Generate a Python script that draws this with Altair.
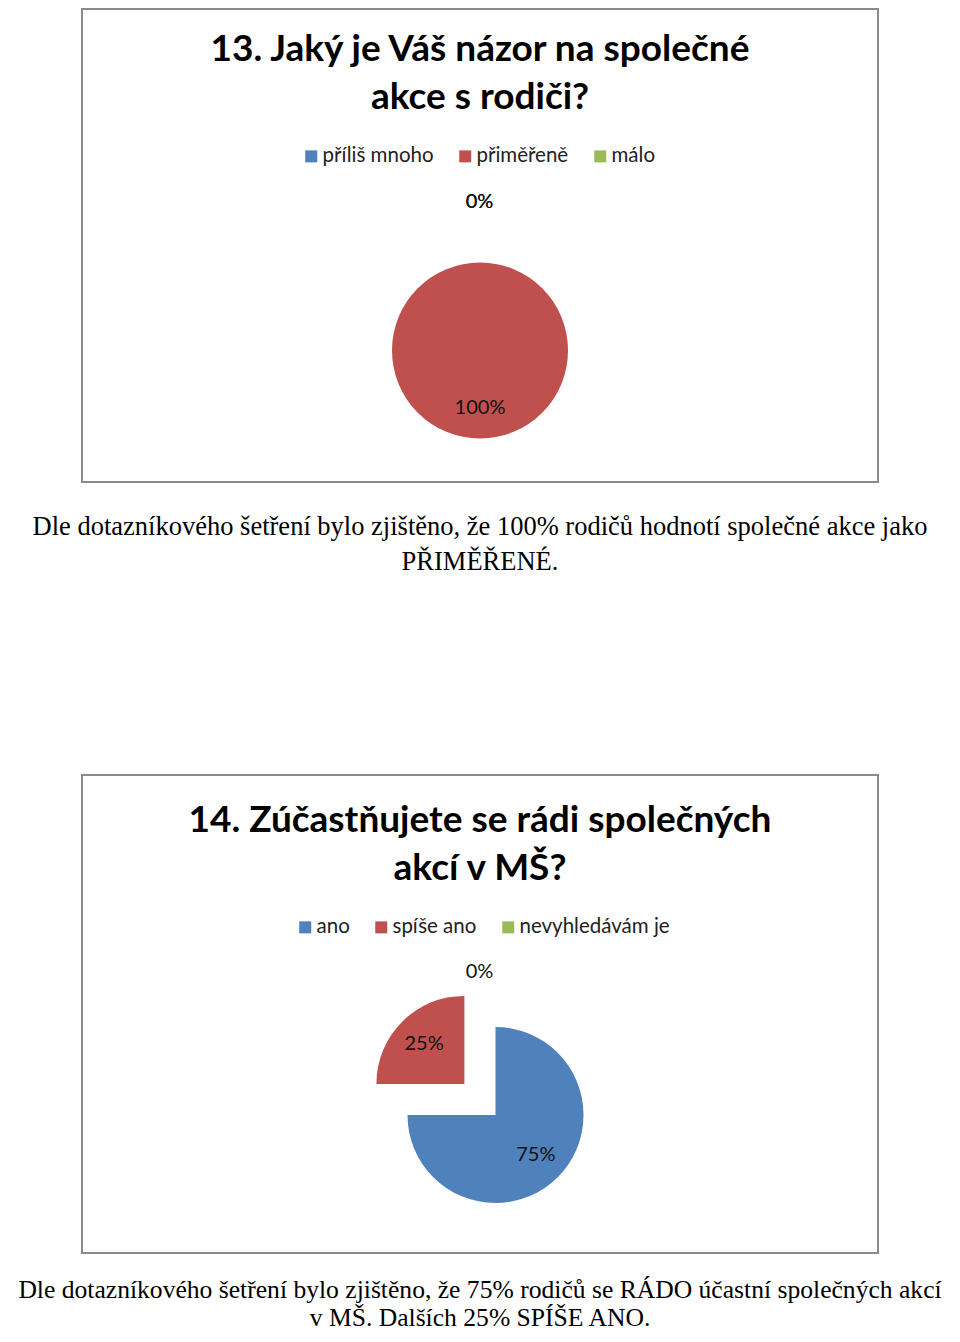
import altair as alt
import pandas as pd

# ---------------- data ----------------
q13_categories = ["příliš mnoho", "přiměřeně", "málo"]
q13_values = [0, 100, 0]
q13_title = ["13. Jaký je Váš názor na společné", "akce s rodiči?"]
q13_text = ["Dle dotazníkového šetření bylo zjištěno, že 100% rodičů hodnotí společné akce jako",
            "PŘIMĚŘENÉ."]

q14_categories = ["ano", "spíše ano", "nevyhledávám je"]
q14_values = [75, 25, 0]
q14_exploded = ["spíše ano"]
q14_title = ["14. Zúčastňujete se rádi společných", "akcí v MŠ?"]
q14_text = ["Dle dotazníkového šetření bylo zjištěno, že 75% rodičů se RÁDO účastní společných akcí",
            "v MŠ. Dalších 25% SPÍŠE ANO."]

# ---------------- style ----------------
PALETTE = ["#4F81BD", "#C0504D", "#9BBB59"]
TITLE_FONT = "Lato"
BODY_FONT = "Liberation Serif"
W, H = 944, 1326
M = 8  # page margin


def P(v):
    """page pixel -> chart pixel"""
    return v - M


ONE = alt.Data(values=[{"k": 0}])


def panel(categories, values, title, box_top, pie_cx, pie_cy, zero_r, legend_x,
          exploded=(), explode_dist=0):
    df = pd.DataFrame({
        "cat": categories,
        "value": values,
        "order": list(range(len(categories))),
        "explode": [c in exploded for c in categories],
    })
    base = (
        alt.Chart(df)
        .transform_joinaggregate(total="sum(value)")
        .transform_window(cum="sum(value)", sort=[alt.SortField("order")], frame=[None, 0])
        .transform_calculate(
            t0="2*PI*(datum.cum-datum.value)/datum.total",
            t1="2*PI*datum.cum/datum.total",
            tm="PI*(2*datum.cum-datum.value)/datum.total",
            pct="format(datum.value/datum.total, '.0%')",
            ox=f"{P(pie_cx)} + (datum.explode ? {explode_dist} : 0)*sin(datum.tm)",
            oy=f"{P(pie_cy)} - (datum.explode ? {explode_dist} : 0)*cos(datum.tm)",
        )
    )
    arcs = base.mark_arc(outerRadius=88).encode(
        theta=alt.Theta("t0:Q", scale=None, stack=False),
        theta2="t1:Q",
        x=alt.X("ox:Q", scale=None, axis=None),
        y=alt.Y("oy:Q", scale=None, axis=None),
        color=alt.Color(
            "cat:N",
            sort=categories,
            scale=alt.Scale(domain=categories, range=PALETTE),
            legend=alt.Legend(
                title=None, orient="none", legendX=P(legend_x), legendY=P(box_top + 142),
                direction="horizontal", symbolType="square", symbolSize=144,
                symbolStrokeWidth=0, symbolOpacity=1, labelFont=TITLE_FONT,
                labelFontSize=20.5, labelColor="#222222", labelOffset=1,
                columnPadding=21, padding=0, labelLimit=400,
            ),
        ),
    )
    labels = base.transform_filter("datum.value > 0").mark_text(
        font=TITLE_FONT, fontSize=20, color="#111111", align="center", baseline="middle"
    ).encode(
        theta=alt.Theta("tm:Q", scale=None, stack=False),
        radius=alt.value(57),
        x=alt.X("ox:Q", scale=None, axis=None),
        y=alt.Y("oy:Q", scale=None, axis=None),
        text="pct:N",
    )
    zeros = base.transform_filter("datum.value == 0").mark_text(
        font=TITLE_FONT, fontSize=20, color="#111111", align="center", baseline="middle"
    ).encode(
        theta=alt.Theta("tm:Q", scale=None, stack=False),
        radius=alt.value(zero_r),
        x=alt.value(P(479.5)),
        y=alt.value(P(pie_cy)),
        text="pct:N",
    )
    frame = alt.Chart(ONE).mark_rect(
        fillOpacity=0, stroke="#8a8a8a", strokeWidth=2
    ).encode(
        x=alt.value(P(82)), x2=alt.value(P(878)),
        y=alt.value(max(P(box_top), 1)), y2=alt.value(P(box_top + 478)),
    )
    ttl = alt.Chart(ONE).mark_text(
        font=TITLE_FONT, fontWeight="bold", fontSize=37, lineHeight=48,
        align="center", baseline="alphabetic", color="#000000",
    ).encode(
        x=alt.value(P(480)), y=alt.value(P(box_top + 57)), text=alt.value(title),
    )
    pie = alt.layer(arcs, labels, zeros)
    return frame, ttl, pie


def paragraph(lines, baseline_y, line_height, size):
    return alt.Chart(ONE).mark_text(
        font=BODY_FONT, fontSize=size, lineHeight=line_height, align="center",
        baseline="alphabetic", color="#000000",
    ).encode(
        x=alt.value(P(480)), y=alt.value(P(baseline_y)), text=alt.value(lines),
    )


f13, t13, pie13 = panel(q13_categories, q13_values, q13_title, box_top=4,
                        pie_cx=480, pie_cy=350.5, zero_r=149, legend_x=301)
f14, t14, pie14 = panel(q14_categories, q14_values, q14_title, box_top=775,
                        pie_cx=495.5, pie_cy=1115, zero_r=143, legend_x=295,
                        exploded=q14_exploded, explode_dist=44)

p13 = paragraph(q13_text, 535, 35, 26.5)
p14 = paragraph(q14_text, 1298, 28, 25.6)

chart = (
    alt.layer(f13, t13, pie13, p13, f14, t14, pie14, p14)
    .resolve_scale(color="independent")
    .properties(width=W, height=H, autosize=alt.AutoSizeParams(type="none"), padding=0)
    .configure_view(stroke=None)
)

chart.save("out.html", embed_options={"renderer": "svg", "actions": False})
